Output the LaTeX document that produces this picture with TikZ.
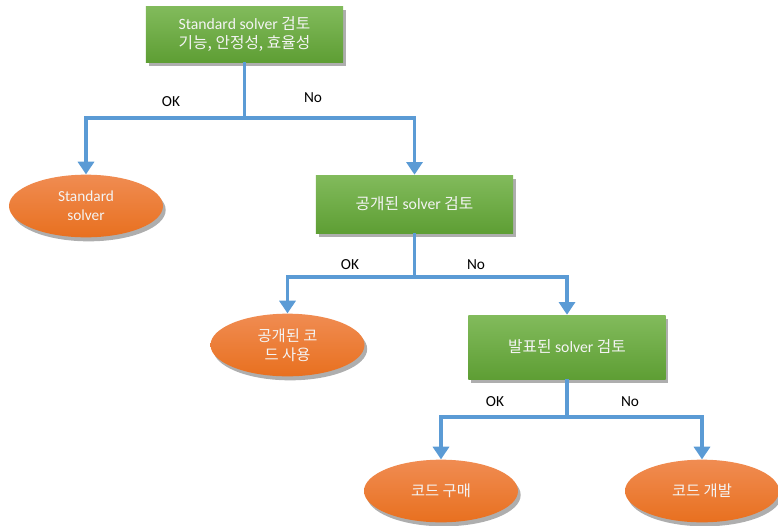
\documentclass[tikz,border=0pt]{standalone}
\usepackage{fontspec}
\setmainfont{Carlito}
\newfontfamily\kr{Noto Sans CJK KR}
\usetikzlibrary{shadows,arrows.meta,shapes.geometric}
\definecolor{gtop}{HTML}{82BB5C}
\definecolor{gbot}{HTML}{5E9E34}
\definecolor{otop}{HTML}{F08C52}
\definecolor{obot}{HTML}{E8701F}
\definecolor{conn}{HTML}{5B9BD5}
\definecolor{txt}{HTML}{F4F4F4}
\tikzset{
  box/.style={rectangle, top color=gtop, bottom color=gbot, draw=none,
    minimum width=148pt, text=txt, align=center, font=\fontsize{11.8}{14}\selectfont,
    drop shadow={shadow xshift=2pt, shadow yshift=-3pt, opacity=0.45, fill=black!70}},
  term/.style={ellipse, top color=otop, bottom color=obot, draw=none,
    minimum width=115.5pt, minimum height=47pt, inner sep=0pt, text=txt, align=center,
    font=\fontsize{11.5}{14}\selectfont,
    drop shadow={shadow xshift=2pt, shadow yshift=-3pt, opacity=0.45, fill=black!70}},
  conn/.style={draw=conn, line width=2.6pt, -{Triangle[width=12pt,length=9.5pt]}},
  cline/.style={draw=conn, line width=2.6pt},
  lbl/.style={font=\fontsize{11.5}{14}\selectfont, text=black}
}
\begin{document}
\begin{tikzpicture}[x=0.75pt,y=-0.75pt]
\useasboundingbox (0,0) rectangle (778,525);
\node[box, minimum height=42pt] (b1) at (244.5,34) {Standard solver {\kr 검토}\\{\kr 기능, 안정성, 효율성}};
\node[term] (e1) at (86,206) {Standard\\solver};
\node[box, minimum height=43.5pt] (b2) at (414.5,204) {{\kr 공개된} solver {\kr 검토}};
\node[term] (e2) at (287.5,345) {{\kr 공개된 코}\\{\kr 드 사용}};
\node[box, minimum height=48pt] (b3) at (567,347) {{\kr 발표된} solver {\kr 검토}};
\node[term] (e3) at (441,491) {{\kr 코드 구매}};
\node[term] (e4) at (702,491) {{\kr 코드 개발}};
\coordinate (j1) at (244.5,118);
\coordinate (j2) at (414.5,277);
\coordinate (j3) at (567,417);
\draw[cline] (b1.south) -- (j1);
\draw[conn] (j1) -| (e1.north);
\draw[conn] (j1) -| (b2.north);
\draw[cline] (b2.south) -- (j2);
\draw[conn] (j2) -| (e2.north);
\draw[conn] (j2) -| (b3.north);
\draw[cline] (b3.south) -- (j3);
\draw[conn] (j3) -| (e3.north);
\draw[conn] (j3) -| (e4.north);
\node[lbl] (l1) at (171,102) {OK};
\node[lbl] (l2) at (313,98) {No};
\node[lbl] (l3) at (350,265) {OK};
\node[lbl] (l4) at (476,265) {No};
\node[lbl] (l5) at (495,402) {OK};
\node[lbl] (l6) at (630,402) {No};
\end{tikzpicture}
\end{document}
